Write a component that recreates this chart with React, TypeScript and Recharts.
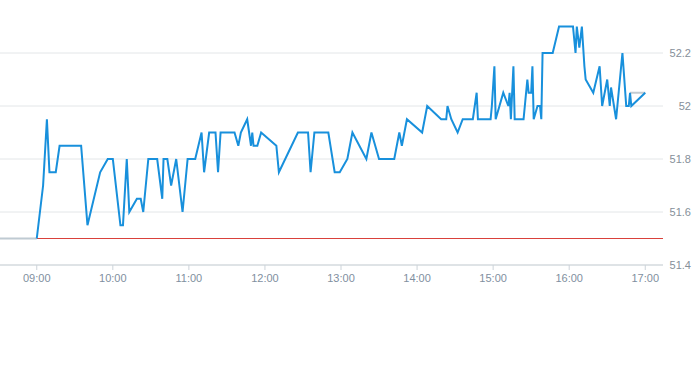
import React from "react";
import { ComposedChart, Line, XAxis, YAxis, CartesianGrid } from "recharts";

const times = [
  "09:00","09:05","09:08","09:10","09:15","09:18","09:35","09:40","09:50","09:56",
  "10:00","10:06","10:08","10:11","10:13","10:19","10:22","10:24","10:28","10:35",
  "10:39","10:40","10:43","10:46","10:50","10:55","10:59","11:05","11:10","11:12",
  "11:16","11:21","11:23","11:25","11:36","11:39","11:41","11:46","11:49","11:50",
  "11:51","11:54","11:57","12:09","12:11","12:26","12:34","12:36","12:39","12:50",
  "12:55","12:59","13:05","13:09","13:20","13:24","13:30","13:42","13:46","13:48",
  "13:52","14:04","14:08","14:19","14:23","14:24","14:27","14:32","14:36","14:44",
  "14:47","14:48","14:58","14:59","15:01","15:02","15:05","15:08","15:12","15:13",
  "15:14","15:16","15:17","15:24","15:27","15:28","15:30","15:31","15:32","15:35",
  "15:37","15:38","15:39","15:47","15:52","16:03","16:05","16:06","16:08","16:10",
  "16:12","16:13","16:19","16:24","16:26","16:30","16:32","16:33","16:37","16:42",
  "16:45","16:47","16:48","16:49","17:00",
];
const prices = [
  51.5,51.7,51.95,51.75,51.75,51.85,51.85,51.55,51.75,51.8,
  51.8,51.55,51.55,51.8,51.6,51.65,51.65,51.6,51.8,51.8,
  51.65,51.8,51.8,51.7,51.8,51.6,51.8,51.8,51.9,51.75,
  51.9,51.9,51.75,51.9,51.9,51.85,51.9,51.95,51.85,51.9,
  51.85,51.85,51.9,51.85,51.75,51.9,51.9,51.75,51.9,51.9,
  51.75,51.75,51.8,51.9,51.8,51.9,51.8,51.8,51.9,51.85,
  51.95,51.9,52.0,51.95,51.95,52.0,51.95,51.9,51.95,51.95,
  52.05,51.95,51.95,52.0,52.15,51.95,52.0,52.05,52.0,52.05,
  51.95,52.15,51.95,51.95,52.1,52.05,52.05,52.15,51.95,52.0,
  52.0,51.95,52.2,52.2,52.3,52.3,52.2,52.3,52.22,52.3,
  52.15,52.1,52.05,52.15,52.0,52.1,52.0,52.07,51.95,52.2,
  52.0,52.0,52.05,52.0,52.05,
];

const preTimes = ["08:31", "09:00"];
const preValues = [51.5, 51.5];
const tailTimes = ["16:48", "17:00"];
const tailValues = [52.05, 52.05];
const refTimes = ["09:00", "17:14"];
const refValues = [51.5, 51.5];

const xDomainTimes = ["08:31", "17:14"];
const xTickTimes = ["09:00","10:00","11:00","12:00","13:00","14:00","15:00","16:00","17:00"];
const yTicks = [51.4, 51.6, 51.8, 52, 52.2];
const yDomain = [51.4, 52.4];

const toMin = (s: string) => {
  const [h, m] = s.split(":").map(Number);
  return h * 60 + m;
};
const fmt = (v: number) => {
  const h = Math.floor(v / 60);
  const m = Math.round(v % 60);
  return `${String(h).padStart(2, "0")}:${String(m).padStart(2, "0")}`;
};
const build = (ts: string[], vs: number[]) => ts.map((t, i) => ({ t: toMin(t), v: vs[i] }));

const mainData = build(times, prices);
const preData = build(preTimes, preValues);
const tailData = build(tailTimes, tailValues);
const refData = build(refTimes, refValues);

const YTick = (props: any) => {
  const { y, payload } = props;
  return (
    <text x={691} y={y} dy={4} textAnchor="end" fill="#858f99" fontSize={11} fontFamily="Liberation Sans, Arial, sans-serif">
      {String(payload.value)}
    </text>
  );
};

export default function App() {
  return (
    <div style={{ position: "absolute", left: 0, top: 0, background: "#fff" }}>
      <ComposedChart width={693} height={365} margin={{ top: 0, right: 0, bottom: 70, left: 0 }}>
        <CartesianGrid vertical={false} stroke="#e3e6e8" horizontalValues={yTicks} />
        <XAxis
          type="number"
          dataKey="t"
          domain={xDomainTimes.map(toMin)}
          ticks={xTickTimes.map(toMin)}
          tickFormatter={fmt}
          allowDataOverflow
          stroke="#ccd3d9"
          tickSize={5}
          tickMargin={4}
          height={30}
          tick={{ fill: "#7f8fa0", fontSize: 11, fontFamily: "Liberation Sans, Arial, sans-serif" }}
        />
        <YAxis
          orientation="right"
          type="number"
          domain={yDomain}
          ticks={yTicks}
          allowDataOverflow
          axisLine={false}
          tickLine={false}
          width={30}
          tick={<YTick />}
        />
        <Line data={refData} dataKey="v" stroke="#d9413b" strokeWidth={1} dot={false} activeDot={false} isAnimationActive={false} />
        <Line data={preData} dataKey="v" stroke="#bfcad2" strokeWidth={2} dot={false} activeDot={false} isAnimationActive={false} />
        <Line data={tailData} dataKey="v" stroke="#c3cbd1" strokeWidth={2} dot={false} activeDot={false} isAnimationActive={false} />
        <Line data={mainData} dataKey="v" stroke="#1890dc" strokeWidth={2} dot={false} activeDot={false} isAnimationActive={false} />
      </ComposedChart>
    </div>
  );
}
